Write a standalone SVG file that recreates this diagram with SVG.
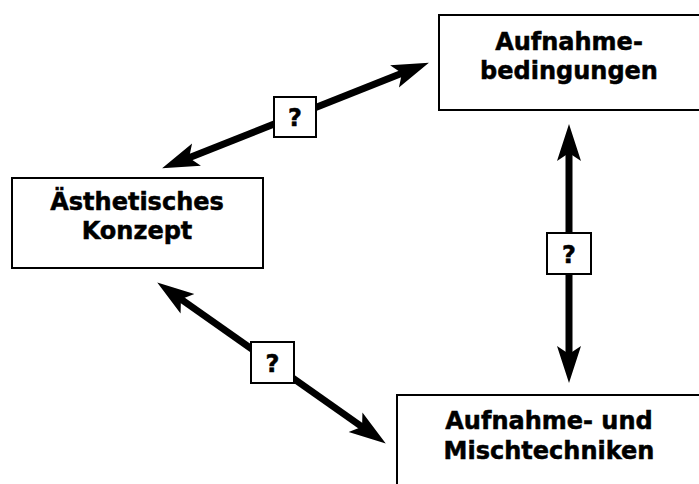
<svg xmlns="http://www.w3.org/2000/svg" width="699" height="484" viewBox="0 0 699 484">
  <style>
    .box { fill: #fff; stroke: #000; stroke-width: 2; }
    .qbox { fill: #fff; stroke: #000; stroke-width: 2; }
    .label { font-family: "DejaVu Sans", Verdana, sans-serif; font-weight: bold; font-size: 24px; fill: #000; stroke: #000; stroke-width: 0.5; text-anchor: middle; }
    .conn { stroke: #000; stroke-width: 7; fill: none; marker-start: url(#head); marker-end: url(#head); }
  </style>
  <defs>
    <marker id="head" markerUnits="userSpaceOnUse" markerWidth="42" markerHeight="26" viewBox="0 -13 42 26" refX="10" refY="0" orient="auto-start-reverse">
      <path d="M37,0 L0,-12 L8,0 L0,12 Z" fill="#000"/>
    </marker>
  </defs>

  <!-- connectors -->
  <g id="connectors">
    <line class="conn" x1="187.2" y1="158.4" x2="403.8" y2="72.6"/>
    <line class="conn" x1="179.3" y1="298" x2="363.7" y2="428"/>
    <line class="conn" x1="569" y1="151" x2="569" y2="356"/>
  </g>

  <!-- question labels on connectors -->
  <g id="q1">
    <rect class="qbox" x="274" y="97" width="42" height="40"/>
    <text class="label" x="295" y="126">?</text>
  </g>
  <g id="q2">
    <rect class="qbox" x="251" y="342" width="43" height="41"/>
    <text class="label" x="272.5" y="371.5">?</text>
  </g>
  <g id="q3">
    <rect class="qbox" x="547" y="233" width="44" height="41"/>
    <text class="label" x="569" y="262.5">?</text>
  </g>

  <!-- nodes -->
  <g id="aufnahmebedingungen">
    <rect class="box" x="439" y="15" width="270" height="95"/>
    <text class="label" x="569" y="49.5">Aufnahme-</text>
    <text class="label" x="569" y="78.5">bedingungen</text>
  </g>
  <g id="aesthetisches-konzept">
    <rect class="box" x="12" y="178" width="251" height="90"/>
    <text class="label" x="137" y="209.5">Ästhetisches</text>
    <text class="label" x="137" y="238.5">Konzept</text>
  </g>
  <g id="aufnahme-mischtechniken">
    <rect class="box" x="397" y="395" width="320" height="100"/>
    <text class="label" x="549" y="428.5">Aufnahme- und</text>
    <text class="label" x="549" y="458.5">Mischtechniken</text>
  </g>
</svg>
